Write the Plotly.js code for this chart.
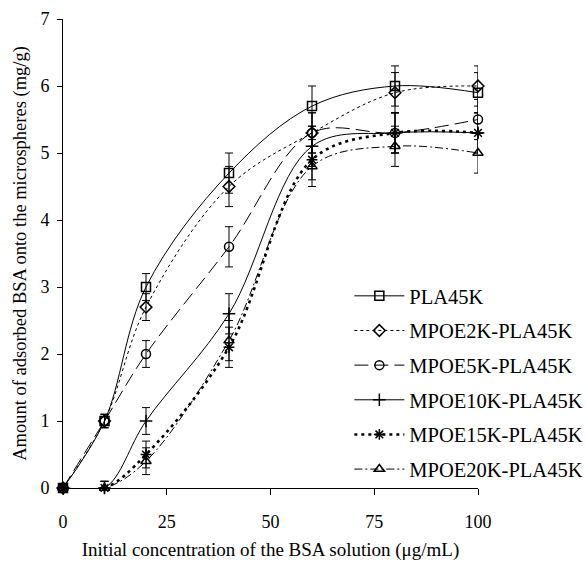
<!DOCTYPE html>
<html>
<head>
<meta charset="utf-8">
<script src="https://cdn.plot.ly/plotly-3.0.1.min.js"></script>
<style>html,body{margin:0;padding:0;background:#fff}#chart{width:586px;height:566px}</style>
</head>
<body>
<div id="chart"></div>
<script>
var concentration = [0, 10, 20, 40, 60, 80, 100];
var seriesNames = ["PLA45K", "MPOE2K-PLA45K", "MPOE5K-PLA45K", "MPOE10K-PLA45K", "MPOE15K-PLA45K", "MPOE20K-PLA45K"];
var pla45k     = [0, 1.0, 3.0, 4.7, 5.7, 6.0, 5.9];
var mpoe2k     = [0, 1.0, 2.7, 4.5, 5.3, 5.9, 6.0];
var mpoe5k     = [0, 1.0, 2.0, 3.6, 5.3, 5.3, 5.5];
var mpoe10k    = [0, 0.0, 1.0, 2.6, 5.1, 5.3, 5.3];
var mpoe15k    = [0, 0.0, 0.5, 2.1, 4.9, 5.3, 5.3];
var mpoe20k    = [0, 0.0, 0.4, 2.2, 4.8, 5.1, 5.0];
var errPla45k  = [0, 0.1, 0.2, 0.3, 0.3, 0.3, 0.3];
var errMpoe2k  = [0, 0.1, 0.2, 0.3, 0.3, 0.3, 0.3];
var errMpoe5k  = [0, 0.1, 0.2, 0.3, 0.3, 0.3, 0.3];
var errMpoe10k = [0, 0.1, 0.2, 0.3, 0.3, 0.3, 0.3];
var errMpoe15k = [0, 0.1, 0.2, 0.3, 0.3, 0.3, 0.3];
var errMpoe20k = [0, 0.1, 0.2, 0.3, 0.3, 0.3, 0.3];
var xTicks = [0, 25, 50, 75, 100];
var yTicks = [0, 1, 2, 3, 4, 5, 6, 7];

var values = [pla45k, mpoe2k, mpoe5k, mpoe10k, mpoe15k, mpoe20k];
var errors = [errPla45k, errMpoe2k, errMpoe5k, errMpoe10k, errMpoe15k, errMpoe20k];
var styles = [
  {dash: "solid", width: 1, symbol: "square-open"},
  {dash: "dot", width: 1, symbol: "diamond-open"},
  {dash: "14px,6px", width: 1, symbol: "circle-open"},
  {dash: "solid", width: 1, symbol: "cross-thin-open"},
  {dash: "3px,4px", width: 2.6, symbol: "asterisk-open"},
  {dash: "8px,3px,2px,3px", width: 1, symbol: "triangle-up-open"}
];
var traces = seriesNames.map(function (name, i) {
  var s = styles[i];
  return {
    type: "scatter", mode: "lines+markers", name: name,
    x: concentration, y: values[i], legendgroup: "g" + i,
    line: {shape: "spline", smoothing: 1, color: "#000", width: s.width, dash: s.dash},
    marker: {symbol: s.symbol, size: 9, color: "#000", line: {color: "#000", width: 1.5}},
    error_y: {type: "data", array: errors[i], visible: true, color: "#000", thickness: 1, width: 4},
    cliponaxis: false
  };
});

var fam = "Liberation Serif";
Plotly.newPlot("chart", traces, {
  width: 586, height: 566,
  margin: {l: 63, r: 108, t: 19, b: 78, autoexpand: false},
  paper_bgcolor: "#fff", plot_bgcolor: "#fff",
  font: {family: fam, color: "#000", size: 18},
  showlegend: true,
  legend: {x: 0.69, y: 0.452, xanchor: "left", yanchor: "top", bgcolor: "rgba(0,0,0,0)",
           font: {family: fam, size: 20.5, color: "#000"}, tracegroupgap: 5, itemwidth: 50},
  xaxis: {range: [0, 100], tickvals: xTicks, ticks: "outside", ticklen: 6, tickcolor: "#000",
          showline: true, linecolor: "#000", linewidth: 1, showgrid: false, zeroline: false,
          ticklabelstandoff: 11, tickfont: {family: fam, size: 18}, automargin: false,
          title: {text: "Initial concentration of the BSA solution (\u03bcg/mL)", font: {family: fam, size: 19}, standoff: 12}},
  yaxis: {range: [0, 7], tickvals: yTicks, ticks: "outside", ticklen: 5, tickcolor: "#000",
          showline: true, linecolor: "#000", linewidth: 1, showgrid: false, zeroline: false,
          ticklabelstandoff: 4, tickfont: {family: fam, size: 18}, automargin: false,
          title: {text: "Amount of adsorbed BSA onto the microspheres (mg/g)", font: {family: fam, size: 18.5}, standoff: 8}}
}, {displayModeBar: false, staticPlot: true});
</script>
</body>
</html>
